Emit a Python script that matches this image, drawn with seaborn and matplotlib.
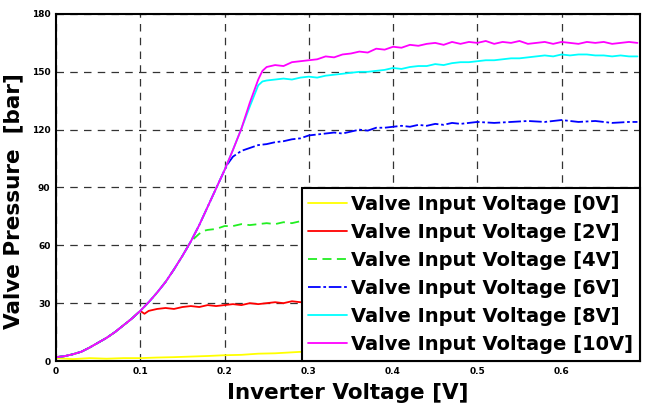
import numpy as np
import pandas as pd
import matplotlib
matplotlib.use('Agg')
import matplotlib.pyplot as plt
import seaborn as sns

# common rise of the pressure curve (all valve voltages follow it at first)
rise_x = [0.00, 0.01, 0.02, 0.03, 0.04, 0.05, 0.06, 0.07, 0.08, 0.09, 0.10, 0.11, 0.12,
          0.13, 0.14, 0.15, 0.16, 0.17, 0.18, 0.19, 0.20, 0.21, 0.22, 0.23, 0.24]
rise_y = [2.0, 2.5, 3.5, 4.8, 7.0, 9.5, 12.0, 15.0, 18.5, 22.0, 26.0, 30.5, 35.5,
          41.0, 47.5, 54.5, 62.0, 70.5, 80.0, 89.5, 99.0, 109.5, 120.5, 132.0, 143.0]

# 0V
v0_x = [0.00, 0.02, 0.04, 0.06, 0.08, 0.10, 0.12, 0.14, 0.16, 0.18, 0.20, 0.22, 0.24,
        0.26, 0.28, 0.30, 0.35, 0.40, 0.50, 0.60, 0.69]
v0_y = [1.5, 1.0, 1.5, 1.2, 1.5, 1.5, 1.8, 2.0, 2.3, 2.6, 3.0, 3.2, 3.8,
        4.0, 4.5, 5.0, 6.0, 7.0, 9.0, 11.0, 12.0]

# 2V (leaves the rise at 0.10)
v2_x = rise_x[:11] + [0.105, 0.11, 0.12, 0.13, 0.14, 0.15, 0.16, 0.17, 0.18, 0.19, 0.20,
                      0.21, 0.22, 0.23, 0.24, 0.25, 0.26, 0.27, 0.28, 0.29, 0.30, 0.40, 0.50, 0.69]
v2_y = rise_y[:11] + [24.5, 26.0, 27.0, 27.5, 27.0, 28.0, 28.5, 28.0, 29.0, 28.5, 29.0,
                      29.5, 29.0, 30.0, 29.5, 30.0, 30.5, 30.0, 31.0, 30.5, 31.0, 32.0, 32.5, 33.0]

# 4V (leaves the rise at 0.16)
v4_x = rise_x[:17] + [0.165, 0.17, 0.175, 0.18, 0.19, 0.20, 0.21, 0.22, 0.23, 0.24, 0.25,
                      0.26, 0.27, 0.28, 0.29, 0.30, 0.40, 0.50, 0.69]
v4_y = rise_y[:17] + [64.0, 66.0, 67.5, 68.0, 68.5, 70.0, 70.0, 71.0, 70.5, 71.0, 71.5,
                      71.0, 72.0, 71.5, 72.5, 72.5, 73.5, 74.0, 75.0]

# 6V (leaves the rise at 0.20)
v6_x = rise_x[:21] + [0.205, 0.21, 0.215, 0.22, 0.23, 0.24, 0.25, 0.26, 0.27, 0.28, 0.29,
                      0.30, 0.31, 0.32, 0.33, 0.34, 0.35, 0.36, 0.37, 0.38, 0.39, 0.40,
                      0.41, 0.42, 0.43, 0.44, 0.45, 0.46, 0.47, 0.48, 0.49, 0.50, 0.52,
                      0.54, 0.56, 0.58, 0.60, 0.62, 0.64, 0.66, 0.68, 0.69]
v6_y = rise_y[:21] + [103.0, 106.0, 107.5, 109.0, 110.5, 112.0, 112.5, 113.5, 114.0, 115.0, 115.5,
                      117.0, 117.5, 118.0, 118.5, 118.0, 119.0, 120.0, 119.5, 121.0, 121.0, 121.5,
                      122.0, 121.5, 122.5, 122.0, 123.0, 122.5, 123.5, 123.0, 123.5, 124.0, 123.5,
                      124.0, 124.5, 124.0, 125.0, 124.0, 124.5, 123.5, 124.0, 124.0]

plateau_x = [0.25, 0.26, 0.27, 0.28, 0.29, 0.30, 0.31, 0.32, 0.33, 0.34, 0.35, 0.36, 0.37,
             0.38, 0.39, 0.40, 0.41, 0.42, 0.43, 0.44, 0.45, 0.46, 0.47, 0.48, 0.49, 0.50,
             0.51, 0.52, 0.53, 0.54, 0.55, 0.56, 0.57, 0.58, 0.59, 0.60, 0.61, 0.62, 0.63,
             0.64, 0.65, 0.66, 0.67, 0.68, 0.69]

# 8V
v8_x = rise_x + [0.245] + plateau_x
v8_y = rise_y + [145.0,
                 145.5, 146.0, 146.5, 146.0, 147.0, 147.5, 147.0, 148.0, 148.5, 149.0, 149.5, 150.0, 150.0,
                 150.5, 151.0, 152.0, 151.5, 152.5, 153.0, 153.0, 154.0, 153.5, 154.5, 155.0, 155.0, 155.5,
                 156.0, 156.0, 156.5, 157.0, 157.0, 157.5, 158.0, 158.5, 158.0, 159.0, 158.5, 159.0, 159.0,
                 158.5, 158.5, 158.0, 158.5, 158.0, 158.0]

# 10V
v10_x = rise_x[:24] + [0.24, 0.245] + plateau_x
v10_y = rise_y[:23] + [134.0, 146.0, 150.5,
                       152.5, 153.5, 153.0, 155.0, 155.5, 156.0, 156.5, 158.0, 157.5, 159.0, 159.5, 160.5, 160.0,
                       162.0, 161.5, 163.0, 162.5, 164.0, 163.5, 164.5, 165.0, 164.0, 165.5, 164.5, 165.5, 165.0,
                       166.0, 164.5, 165.5, 165.0, 166.0, 164.5, 165.0, 165.5, 164.5, 165.5, 165.0, 164.5, 165.5,
                       165.0, 165.5, 164.5, 165.0, 165.5, 165.0]

series = [
    ('Valve Input Voltage [0V]', v0_x, v0_y, '#ffff00', '-'),
    ('Valve Input Voltage [2V]', v2_x, v2_y, '#ff0000', '-'),
    ('Valve Input Voltage [4V]', v4_x, v4_y, '#22ee22', (0, (5, 3))),
    ('Valve Input Voltage [6V]', v6_x, v6_y, '#0000ff', (0, (7, 1.5, 1.5, 1.5))),
    ('Valve Input Voltage [8V]', v8_x, v8_y, '#00ffff', '-'),
    ('Valve Input Voltage [10V]', v10_x, v10_y, '#ff00ff', '-'),
]

sns.set_style('white')
plt.rcParams['font.family'] = ['DejaVu Sans']
plt.rcParams['font.weight'] = 'bold'
plt.rcParams['text.color'] = 'black'
plt.rcParams['axes.labelcolor'] = 'black'
plt.rcParams['xtick.color'] = 'black'
plt.rcParams['ytick.color'] = 'black'

fig = plt.figure(figsize=(6.45, 4.03), dpi=100)
ax = fig.add_axes([0.0868, 0.1042, 0.9054, 0.8611])

for label, xs, ys, color, ls in series:
    df = pd.DataFrame({'x': xs, 'y': ys})
    sns.lineplot(data=df, x='x', y='y', ax=ax, color=color, linestyle=ls,
                 linewidth=1.3, label=label, estimator=None, sort=False)

ax.set_xlim(0, 0.693)
ax.set_ylim(0, 180)
ax.set_xticks([0, 0.1, 0.2, 0.3, 0.4, 0.5, 0.6])
ax.set_xticklabels(['0', '0.1', '0.2', '0.3', '0.4', '0.5', '0.6'])
ax.set_yticks([0, 30, 60, 90, 120, 150, 180])
ax.tick_params(labelsize=6.5, direction='in', length=3, width=1, pad=4,
               colors='black')
for lab in ax.get_xticklabels() + ax.get_yticklabels():
    lab.set_fontweight('bold')

ax.grid(True, color='#333333', linestyle=(0, (6, 5)), linewidth=0.9)
for s in ax.spines.values():
    s.set_color('black')
    s.set_linewidth(1.5)

ax.set_xlabel('Inverter Voltage [V]', fontsize=15.5, fontweight='bold', labelpad=5)
ax.set_ylabel('Valve Pressure  [bar]', fontsize=15.5, fontweight='bold')
ax.yaxis.set_label_coords(-0.056, 0.46)

leg = ax.legend(loc='lower right', fontsize=14, frameon=True, fancybox=False,
                framealpha=1, edgecolor='black', borderaxespad=0, handlelength=2.0,
                handletextpad=0.2, labelspacing=0.47, borderpad=0.35)
leg.get_frame().set_linewidth(1.5)
for t in leg.get_texts():
    t.set_fontweight('bold')
    t.set_color('black')

fig.savefig('out.png', dpi=100)
